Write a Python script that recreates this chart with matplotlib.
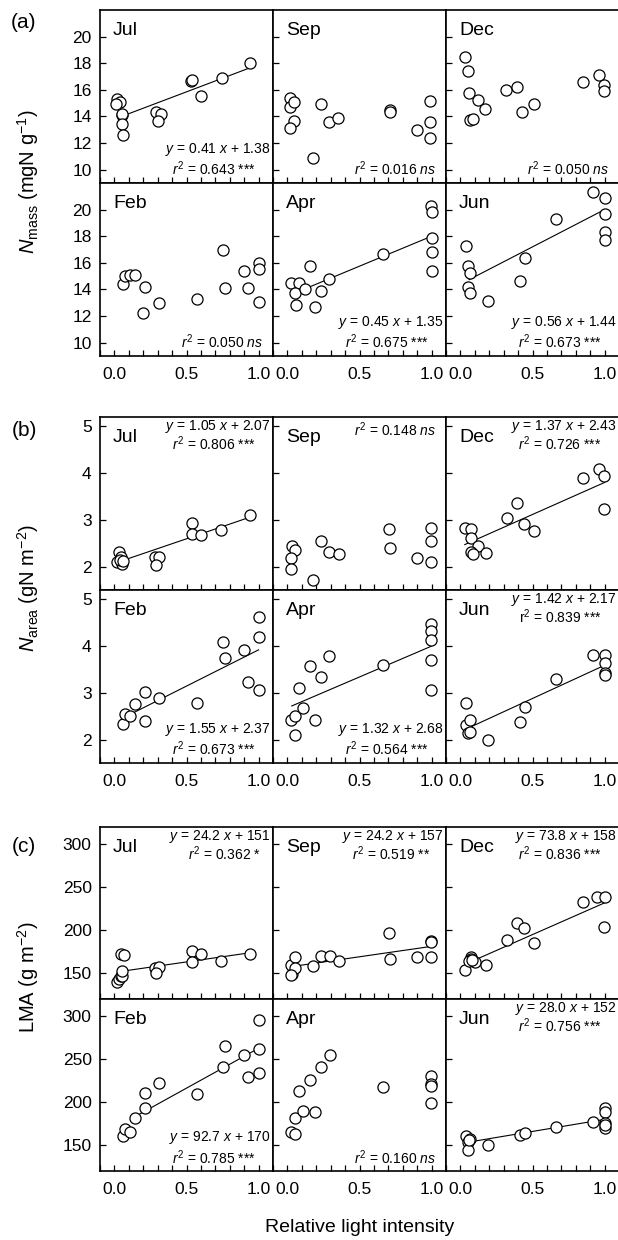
import matplotlib
matplotlib.use('Agg')
import matplotlib.pyplot as plt
from matplotlib.ticker import MultipleLocator

plt.rcParams['font.family'] = ['Liberation Sans', 'DejaVu Sans']
plt.rcParams['mathtext.fontset'] = 'custom'
plt.rcParams['mathtext.rm'] = 'Liberation Sans'
plt.rcParams['mathtext.it'] = 'Liberation Sans:italic'
plt.rcParams['mathtext.bf'] = 'Liberation Sans:bold'

months = ['Jul', 'Sep', 'Dec', 'Feb', 'Apr', 'Jun']

# ---------------- (a) N mass (mgN g-1) ----------------
jul_nmass_x = [0.02, 0.04, 0.01, 0.05, 0.055, 0.05, 0.06, 0.29, 0.32, 0.30, 0.53, 0.535, 0.60, 0.745, 0.94]
jul_nmass_y = [15.3, 15.1, 14.9, 14.1, 14.15, 13.45, 12.6, 14.3, 14.2, 13.65, 16.7, 16.75, 15.55, 16.9, 18.0]
sep_nmass_x = [0.02, 0.02, 0.045, 0.045, 0.02, 0.18, 0.23, 0.29, 0.35, 0.71, 0.715, 0.90, 0.99, 0.99, 0.99]
sep_nmass_y = [15.4, 14.7, 15.05, 13.65, 13.1, 10.9, 14.9, 13.6, 13.9, 14.45, 14.35, 12.95, 15.15, 13.6, 12.4]
dec_nmass_x = [0.03, 0.055, 0.06, 0.12, 0.17, 0.065, 0.09, 0.315, 0.39, 0.43, 0.51, 0.85, 0.96, 0.995, 0.995]
dec_nmass_y = [18.5, 17.45, 15.75, 15.2, 14.55, 13.7, 13.8, 16.0, 16.2, 14.35, 14.9, 16.6, 17.15, 16.4, 15.9]
feb_nmass_x = [0.06, 0.07, 0.11, 0.14, 0.21, 0.20, 0.31, 0.57, 0.75, 0.77, 0.90, 0.93, 1.0, 1.0, 1.0]
feb_nmass_y = [14.4, 15.0, 15.1, 15.1, 14.2, 12.25, 13.0, 13.25, 17.0, 14.1, 15.35, 14.1, 16.0, 15.5, 13.05]
apr_nmass_x = [0.025, 0.08, 0.05, 0.06, 0.12, 0.16, 0.23, 0.19, 0.29, 0.66, 0.995, 1.0, 1.0, 1.0, 1.0]
apr_nmass_y = [14.5, 14.5, 13.7, 12.8, 14.0, 15.75, 13.9, 12.7, 14.8, 16.7, 20.3, 19.8, 17.9, 16.8, 15.4]
jun_nmass_x = [0.04, 0.05, 0.065, 0.05, 0.065, 0.19, 0.41, 0.45, 0.66, 0.92, 1.0, 1.0, 1.0, 1.0]
jun_nmass_y = [17.25, 15.8, 15.2, 14.2, 13.75, 13.1, 14.65, 16.4, 19.3, 21.3, 20.85, 19.7, 18.3, 17.7]

# ---------------- (b) N area (gN m-2) ----------------
jul_narea_x = [0.03, 0.045, 0.02, 0.05, 0.04, 0.06, 0.28, 0.31, 0.29, 0.54, 0.54, 0.60, 0.74, 0.94]
jul_narea_y = [2.31, 2.21, 2.09, 2.06, 2.15, 2.12, 2.21, 2.21, 2.04, 2.94, 2.70, 2.67, 2.78, 3.11]
sep_narea_x = [0.03, 0.05, 0.025, 0.025, 0.175, 0.23, 0.29, 0.355, 0.705, 0.71, 0.90, 0.995, 0.995, 0.995]
sep_narea_y = [2.44, 2.35, 2.19, 1.94, 1.72, 2.55, 2.31, 2.26, 2.81, 2.40, 2.19, 2.83, 2.55, 2.09]
dec_narea_x = [0.03, 0.07, 0.07, 0.125, 0.07, 0.09, 0.175, 0.32, 0.39, 0.44, 0.51, 0.85, 0.96, 0.998, 0.995]
dec_narea_y = [2.83, 2.81, 2.62, 2.45, 2.31, 2.28, 2.29, 3.03, 3.37, 2.91, 2.76, 3.89, 4.08, 3.93, 3.24]
feb_narea_x = [0.06, 0.07, 0.11, 0.14, 0.21, 0.21, 0.31, 0.57, 0.75, 0.77, 0.90, 0.93, 1.0, 1.0, 1.0]
feb_narea_y = [2.33, 2.55, 2.50, 2.76, 2.40, 3.01, 2.89, 2.78, 4.09, 3.75, 3.92, 3.24, 4.63, 4.20, 3.06]
apr_narea_x = [0.025, 0.05, 0.055, 0.08, 0.11, 0.16, 0.19, 0.23, 0.29, 0.66, 0.995, 0.995, 0.995, 0.995, 0.995]
apr_narea_y = [2.41, 2.51, 2.10, 3.10, 2.68, 3.57, 2.41, 3.34, 3.79, 3.60, 4.48, 4.33, 4.12, 3.70, 3.07]
jun_narea_x = [0.04, 0.04, 0.065, 0.05, 0.065, 0.19, 0.41, 0.45, 0.66, 0.92, 1.0, 1.0, 1.0, 1.0]
jun_narea_y = [2.78, 2.31, 2.41, 2.15, 2.17, 2.00, 2.38, 2.69, 3.30, 3.80, 3.82, 3.64, 3.43, 3.39]

# ---------------- (c) LMA (g m-2) ----------------
jul_lma_x = [0.02, 0.03, 0.045, 0.055, 0.055, 0.045, 0.065, 0.28, 0.31, 0.29, 0.54, 0.535, 0.60, 0.74, 0.94]
jul_lma_y = [140.3, 143.4, 147.0, 146.5, 153.0, 172.5, 171.7, 156.0, 157.7, 150.4, 176.0, 162.8, 172.5, 164.3, 172.5]
sep_lma_x = [0.03, 0.025, 0.05, 0.05, 0.025, 0.175, 0.23, 0.295, 0.355, 0.705, 0.71, 0.90, 0.995, 0.995, 0.995]
sep_lma_y = [149.2, 159.0, 168.6, 156.2, 148.0, 158.0, 170.5, 170.5, 164.0, 196.5, 166.0, 169.4, 187.6, 186.5, 169.4]
dec_lma_x = [0.03, 0.07, 0.07, 0.10, 0.175, 0.06, 0.08, 0.32, 0.39, 0.44, 0.51, 0.85, 0.95, 1.0, 0.995]
dec_lma_y = [153.9, 168.6, 166.0, 163.6, 159.0, 164.0, 165.0, 189.0, 208.0, 202.0, 185.0, 233.0, 238.4, 238.4, 204.3]
feb_lma_x = [0.06, 0.07, 0.11, 0.14, 0.21, 0.21, 0.31, 0.57, 0.75, 0.77, 0.90, 0.93, 1.0, 1.0, 1.0]
feb_lma_y = [161.0, 168.9, 165.8, 181.3, 193.8, 210.5, 222.2, 209.3, 240.5, 265.0, 254.5, 229.2, 296.1, 262.3, 233.9]
apr_lma_x = [0.025, 0.055, 0.05, 0.08, 0.11, 0.16, 0.19, 0.23, 0.295, 0.66, 0.995, 0.995, 0.995, 0.995]
apr_lma_y = [165.8, 162.6, 182.1, 212.5, 189.9, 226.0, 189.1, 240.5, 255.3, 217.1, 230.0, 221.0, 218.3, 199.6]
jun_lma_x = [0.04, 0.05, 0.05, 0.065, 0.06, 0.19, 0.41, 0.45, 0.66, 0.92, 1.0, 1.0, 1.0, 1.0, 1.0]
jun_lma_y = [161.0, 153.3, 144.3, 157.2, 156.0, 150.2, 161.9, 163.8, 170.8, 177.4, 193.8, 188.3, 175.5, 170.4, 173.0]

# ---------------- regressions (as printed; None = no line) ----------------
nmass_slope = [0.41, None, None, None, 0.45, 0.56]
nmass_icept = [1.38, None, None, None, 1.35, 1.44]
nmass_r2 = ['0.643', '0.016', '0.050', '0.050', '0.675', '0.673']
nmass_sig = ['***', 'ns', 'ns', 'ns', '***', '***']
nmass_line_x = [(0.055, 0.94), None, None, None, (0.145, 1.0), (0.06, 1.0)]

narea_slope = [1.05, None, 1.37, 1.55, 1.32, 1.42]
narea_icept = [2.07, None, 2.43, 2.37, 2.68, 2.17]
narea_r2 = ['0.806', '0.148', '0.726', '0.673', '0.564', '0.839']
narea_sig = ['***', 'ns', '***', '***', '***', '***']
narea_line_x = [(0.02, 0.94), None, (0.03, 1.0), (0.11, 1.0), (0.03, 1.0), (0.045, 1.0)]

lma_slope = [24.2, 24.2, 73.8, 92.7, None, 28.0]
lma_icept = [151, 157, 158, 170, None, 152]
lma_r2 = ['0.362', '0.519', '0.836', '0.785', '0.160', '0.756']
lma_sig = ['*', '**', '***', '***', 'ns', '***']
lma_line_x = [(0.05, 0.94), (0.03, 1.0), (0.05, 1.0), (0.14, 1.0), None, (0.05, 1.0)]

# text placement: 'top' or 'bottom'
nmass_textpos = ['bottom'] * 6
narea_textpos = ['top', 'top', 'top', 'bottom', 'bottom', 'top']
lma_textpos = ['top', 'top', 'top', 'bottom', 'bottom', 'top']

groups = [
    dict(letter='(a)', ylabel=r'$N_{\rm mass}$ (mgN g$^{-1}$)',
         xs=[jul_nmass_x, sep_nmass_x, dec_nmass_x, feb_nmass_x, apr_nmass_x, jun_nmass_x],
         ys=[jul_nmass_y, sep_nmass_y, dec_nmass_y, feb_nmass_y, apr_nmass_y, jun_nmass_y],
         slope=nmass_slope, icept=nmass_icept, r2=nmass_r2, sig=nmass_sig,
         linex=nmass_line_x, textpos=nmass_textpos, unit=10.0, fmt='{:.2f}',
         ylim=(9, 22), yticks=[10, 12, 14, 16, 18, 20], top=10, h=173,
         ylab_y=182, letter_y=22),
    dict(letter='(b)', ylabel=r'$N_{\rm area}$ (gN m$^{-2}$)',
         xs=[jul_narea_x, sep_narea_x, dec_narea_x, feb_narea_x, apr_narea_x, jun_narea_x],
         ys=[jul_narea_y, sep_narea_y, dec_narea_y, feb_narea_y, apr_narea_y, jun_narea_y],
         slope=narea_slope, icept=narea_icept, r2=narea_r2, sig=narea_sig,
         linex=narea_line_x, textpos=narea_textpos, unit=1.0, fmt='{:.2f}',
         ylim=(1.5, 5.2), yticks=[2, 3, 4, 5], top=417, h=173,
         ylab_y=588, letter_y=430),
    dict(letter='(c)', ylabel=r'LMA (g m$^{-2}$)',
         xs=[jul_lma_x, sep_lma_x, dec_lma_x, feb_lma_x, apr_lma_x, jun_lma_x],
         ys=[jul_lma_y, sep_lma_y, dec_lma_y, feb_lma_y, apr_lma_y, jun_lma_y],
         slope=lma_slope, icept=lma_icept, r2=lma_r2, sig=lma_sig,
         linex=lma_line_x, textpos=lma_textpos, unit=1.0, fmt='{:.1f}',
         ylim=(120, 320), yticks=[150, 200, 250, 300], top=827, h=172,
         ylab_y=977, letter_y=847),
]

W, H = 618, 1240
fig = plt.figure(figsize=(W / 100, H / 100), dpi=100)
LEFT, PW = 100, 173

tick_fs = 12.5
month_fs = 14
eq_fs = 10

for gi, g in enumerate(groups):
    for k in range(6):
        row, col = divmod(k, 3)
        x0 = LEFT + col * PW
        ytop = g['top'] + row * g['h']
        ax = fig.add_axes([x0 / W, 1 - (ytop + g['h']) / H, PW / W, g['h'] / H])
        ax.set_xlim(-0.1, 1.1)
        ax.set_ylim(*g['ylim'])
        ax.set_yticks(g['yticks'])
        ax.xaxis.set_major_locator(MultipleLocator(0.5))
        ax.xaxis.set_minor_locator(MultipleLocator(0.1))
        ax.tick_params(axis='both', which='both', direction='in', length=4,
                       width=0.9, labelsize=tick_fs, top=False, right=False)
        ax.tick_params(axis='x', pad=8)
        ax.tick_params(axis='y', pad=6)
        if row == 1:
            ax.xaxis.set_major_formatter(plt.FuncFormatter(lambda v, p: f'{v:.1f}'))
        else:
            ax.tick_params(axis='x', labelbottom=False)
        if col != 0:
            ax.tick_params(axis='y', labelleft=False)
        for s in ax.spines.values():
            s.set_linewidth(1.2)

        # regression line
        lx = g['linex'][k]
        if lx is not None:
            a, b = g['slope'][k], g['icept'][k]
            xs_line = [lx[0], lx[1]]
            ys_line = [g['unit'] * (a * v + b) for v in xs_line]
            ax.plot(xs_line, ys_line, color='black', lw=0.8, zorder=2)

        ax.plot(g['xs'][k], g['ys'][k], 'o', ms=8, mfc='white', mec='black',
                mew=0.9, zorder=3, clip_on=False)

        ax.text(0.075, 0.88, months[k], transform=ax.transAxes, fontsize=month_fs,
                ha='left', va='center')

        # annotation
        sig = g['sig'][k]
        rsym = r'r$^2$' if (gi == 1 and k == 5) else r'$r^2$'
        if sig == 'ns':
            r2txt = rsym + ' = ' + g['r2'][k] + r' $ns$'
            r2x = 0.94
        else:
            r2txt = rsym + ' = ' + g['r2'][k] + ' ' + sig
            r2x = 0.90 if sig == '***' else (0.91 if sig == '**' else 0.93)
        eqtxt = None
        if g['slope'][k] is not None:
            eqtxt = r'$y$ = ' + g['fmt'].format(g['slope'][k]) + r' $x$ + ' + \
                (g['fmt'].format(g['icept'][k]) if gi < 2 else f"{g['icept'][k]:d}")
        if g['textpos'][k] == 'top':
            ys_eq, ys_r2 = 0.945, 0.843
            if eqtxt is None:
                ys_r2 = 0.925
        else:
            ys_eq, ys_r2 = 0.195, 0.08
        if eqtxt is not None:
            ax.text(0.985, ys_eq, eqtxt, transform=ax.transAxes, fontsize=eq_fs,
                    ha='right', va='center')
        ax.text(r2x, ys_r2, r2txt, transform=ax.transAxes, fontsize=eq_fs,
                ha='right', va='center')

    fig.text(24 / W, 1 - g['letter_y'] / H, g['letter'], fontsize=15,
             ha='center', va='center')
    fig.text(28 / W, 1 - g['ylab_y'] / H, g['ylabel'], fontsize=14.5,
             rotation=90, ha='center', va='center')

fig.text((LEFT + 1.5 * PW) / W, 1 - 1228 / H, 'Relative light intensity',
         fontsize=14, ha='center', va='center')

fig.savefig('out.png', dpi=100)
